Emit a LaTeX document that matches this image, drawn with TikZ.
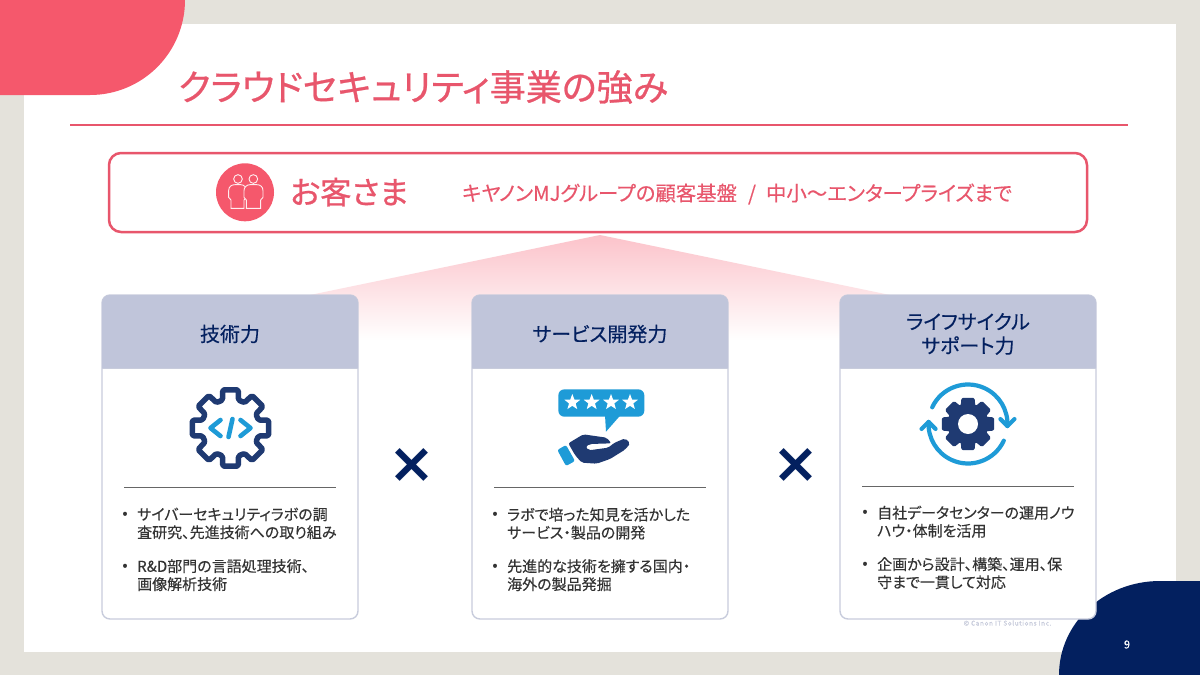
\documentclass[tikz,border=0pt]{standalone}
\usepackage{fontspec}
\setmainfont{Noto Sans CJK JP}[RawFeature={+palt},FakeBold=0.25]
\newfontfamily\medfont{Noto Sans CJK JP}[RawFeature={+palt},FakeBold=0.7]
\newfontfamily\heavyfont{DejaVu Sans}
\definecolor{bgc}{HTML}{E4E2DB}
\definecolor{pinkc}{HTML}{F5586C}
\definecolor{linec}{HTML}{E8566C}
\definecolor{navyc}{HTML}{03205F}
\definecolor{iconnavy}{HTML}{1F3A72}
\definecolor{iconblue}{HTML}{1E9BD7}
\definecolor{headc}{HTML}{C0C5DA}
\definecolor{borderc}{HTML}{C8CCDC}
\definecolor{bodyc}{HTML}{333333}
\newcommand{\fs}[1]{\fontsize{#1}{#1}\selectfont}
\tikzset{
  x=1pt,y=-1pt,
  cardbody/.style={draw=borderc,line width=1.4pt,fill=white,rounded corners=8pt},
  cardhead/.style={fill=headc},
  headtext/.style={text=navyc,align=center,inner sep=0,font=\fontsize{20}{24}\selectfont},
  bodytext/.style={text=bodyc,align=left,anchor=north west,inner sep=0,font=\fontsize{15}{18}\selectfont},
  bullet/.style={text=bodyc,inner sep=0,font=\fontsize{15}{18}\selectfont},
  divider/.style={draw=gray!80!black,line width=0.8pt},
  crosstext/.style={text=navyc,inner sep=0,font=\heavyfont\bfseries\fontsize{56}{56}\selectfont},
  iconline/.style={draw=iconnavy,line width=5.5pt,line join=round,fill=white,rounded corners=1.5pt},
  arcline/.style={draw=iconblue,line width=4.2pt,line cap=round,line join=round},
  personline/.style={draw=white!90!pinkc,line width=0.9pt,fill=pinkc}
}
\begin{document}
\begin{tikzpicture}
\useasboundingbox (0,0) rectangle (1200,675);
\fill[bgc] (0,0) rectangle (1200,675);
\fill[white] (24,24) rectangle (1176,652);
\fill[pinkc] (0,0) -- (185,0) .. controls (185,52.5) and (142.5,95) .. (90,95) -- (0,95) -- cycle;
\fill[navyc] (1059,675) .. controls (1059,623) and (1104,581) .. (1160,581) -- (1200,581) -- (1200,675) -- cycle;
\node[anchor=west,inner sep=0,text=linec,font=\medfont\fs{36.1}] (title) at (178,87) {クラウドセキュリティ事業の強み};
\coordinate (ruleL) at (70,125);
\coordinate (ruleR) at (1128,125);
\draw[linec,line width=2pt] (ruleL) -- (ruleR);
% customer box
\node[draw=linec,line width=2.5pt,rounded corners=12pt,minimum width=978pt,minimum height=79pt,inner sep=0] (custbox) at (598,192.5) {};
\fill[pinkc] (245,192.3) circle[radius=29];
\begin{scope}[shift={(170,140)},x=1/3*1pt,y=-1/3*1pt]
\draw[personline] (183,205) -- (183,180) -- (176,172) -- (176,152) .. controls (176,140) and (184,134) .. (195,134) -- (212,134) .. controls (222,134) and (230,142) .. (230,152) -- (230,172) -- (222,180) -- (222,205) -- cycle;
\draw[personline] (229,205) -- (229,180) -- (222,172) -- (222,152) .. controls (222,142) and (230,134) .. (240,134) -- (260,134) .. controls (271,134) and (279,140) .. (279,152) -- (279,172) -- (272,180) -- (272,205) -- cycle;
\draw[personline] (204,117) circle[radius=13];
\draw[personline] (250,117) circle[radius=13];
\end{scope}
\node[anchor=west,inner sep=0,text=linec,font=\medfont\fs{31.3}] (cust) at (290,192) {お客さま};
\node[anchor=west,inner sep=0,text=linec,font=\fs{20.4}] (custsub) at (462,194) {キヤノンMJグループの顧客基盤\hspace{11pt}/\hspace{10pt}中小～エンタープライズまで};
% triangle
\shade[top color=pinkc!36,bottom color=white] (600,235) -- (310,295) -- (310,340) -- (890,340) -- (890,295) -- cycle;
% cards
\foreach \cx in {102,472,840}{
  \draw[cardbody] (\cx,295) rectangle ++(256,324);
  \fill[cardhead] (\cx,368) -- (\cx,303) .. controls (\cx,298.6) and (\cx+3.6,295) .. (\cx+8,295) -- (\cx+248,295) .. controls (\cx+252.4,295) and (\cx+256,298.6) .. (\cx+256,303) -- (\cx+256,368) -- cycle;
  \draw[borderc,line width=1pt] (\cx,368) -- ++(256,0);
}
\node[headtext] (heada) at (230,334) {技術力};
\node[headtext] (headb) at (600,334) {サービス開発力};
\node[headtext] (headc) at (968,334) {ライフサイクル\\サポート力};
\coordinate (da1) at (124,487); \coordinate (da2) at (336,487);
\coordinate (db1) at (494,487); \coordinate (db2) at (706,487);
\coordinate (dc1) at (862,486); \coordinate (dc2) at (1074,486);
\draw[divider] (da1) -- (da2);
\draw[divider] (db1) -- (db2);
\draw[divider] (dc1) -- (dc2);
% gear icon 1
\begin{scope}[shift={(230.5,428)},x=1pt,y=1pt]
\draw[iconline] (106:29) \foreach \a in {90,45,0,-45,-90,-135,-180,-225}{ -- (\a+16:29) -- (\a+11.5:39) -- (\a-11.5:39) -- (\a-16:29)} -- cycle;
\draw[iconblue,line width=4.6pt,line join=round,line cap=round] (-10,8) -- (-20,0) -- (-10,-8);
\draw[iconblue,line width=4.6pt,line join=round,line cap=round] (10,8) -- (20,0) -- (10,-8);
\draw[iconblue,line width=4.6pt,line cap=round] (2,9) -- (-2,-9);
\end{scope}
% review hand icon
\begin{scope}[shift={(540,375)},x=1/3*1pt,y=-1/3*1pt]
\fill[iconblue,rounded corners=6pt] (55,43) rectangle (313,125);
\fill[iconblue] (195,120) -- (198,170) -- (242,120) -- cycle;
\foreach \sx in {97,155,213,270}{
  \begin{scope}[shift={(\sx,82)},y=1/3*1pt]
  \fill[white] (90:25) -- (126:10.5) -- (162:25) -- (198:10.5) -- (234:25) -- (270:10.5) -- (306:25) -- (342:10.5) -- (18:25) -- (54:10.5) -- cycle;
  \end{scope}
}
\fill[iconnavy,rounded corners=2pt] (85,205) -- (130,178) -- (165,183) -- (200,188) -- (214,205) -- (150,207) -- (137,215) -- (146,226) -- (205,218) -- (222,204) -- (255,190) -- (271,205) -- (255,224) -- (210,252) -- (170,266) -- (125,263) -- (105,240) -- cycle;
\fill[iconblue,rounded corners=2pt] (52,225) -- (78,210) -- (105,258) -- (78,273) -- cycle;
\end{scope}
% lifecycle icon
\begin{scope}[shift={(968,424)},x=1pt,y=1pt]
\fill[iconnavy,rounded corners=1.5pt] (112:19.5) \foreach \a in {90,45,0,-45,-90,-135,-180,-225}{ -- (\a+22:19.5) -- (\a+14:27) -- (\a-14:27) -- (\a-22:19.5)} -- cycle;
\fill[white] (0,0) circle[radius=10];
\draw[arcline] (155:39.5) arc[start angle=155,end angle=-3,radius=39.5];
\draw[arcline] (-25:39.5) arc[start angle=-25,end angle=-183,radius=39.5];
\draw[arcline] (-3:39.5) ++(-7,7) -- ++(7,-7) -- ++(7,7);
\draw[arcline] (-183:39.5) ++(-7,-7) -- ++(7,7) -- ++(7,-7);
\end{scope}
% crosses
\node[crosstext] (crossa) at (411.5,465) {×};
\node[crosstext] (crossb) at (795.5,465) {×};
% bullets card a
\node[bullet] (ba1) at (125,515) {•};
\node[bodytext] (ta1) at (137,507.5) {サイバーセキュリティラボの調\\査研究、先進技術への取り組み};
\node[bullet] (ba2) at (125,567) {•};
\node[bodytext] (ta2) at (137,559) {R\&D部門の言語処理技術、\\画像解析技術};
% bullets card b
\node[bullet] (bb1) at (495,515) {•};
\node[bodytext] (tb1) at (507,507.5) {ラボで培った知見を活かした\\サービス・製品の開発};
\node[bullet] (bb2) at (495,567) {•};
\node[bodytext] (tb2) at (507,559) {先進的な技術を擁する国内・\\海外の製品発掘};
% bullets card c
\node[bullet] (bc1) at (865,513) {•};
\node[bodytext] (tc1) at (877,505.5) {自社データセンターの運用ノウ\\ハウ・体制を活用};
\node[bullet] (bc2) at (865,565) {•};
\node[bodytext] (tc2) at (877,557) {企画から設計、構築、運用、保\\守まで一貫して対応};
% footer
\node[inner sep=0,text=borderc,font=\addfontfeature{LetterSpace=8.6}\fs{6.5}] (copy) at (1007.5,623) {© Canon IT Solutions Inc.};
\node[inner sep=0,text=white,font=\fs{11}] (page) at (1127,644.5) {9};
\end{tikzpicture}
\end{document}
